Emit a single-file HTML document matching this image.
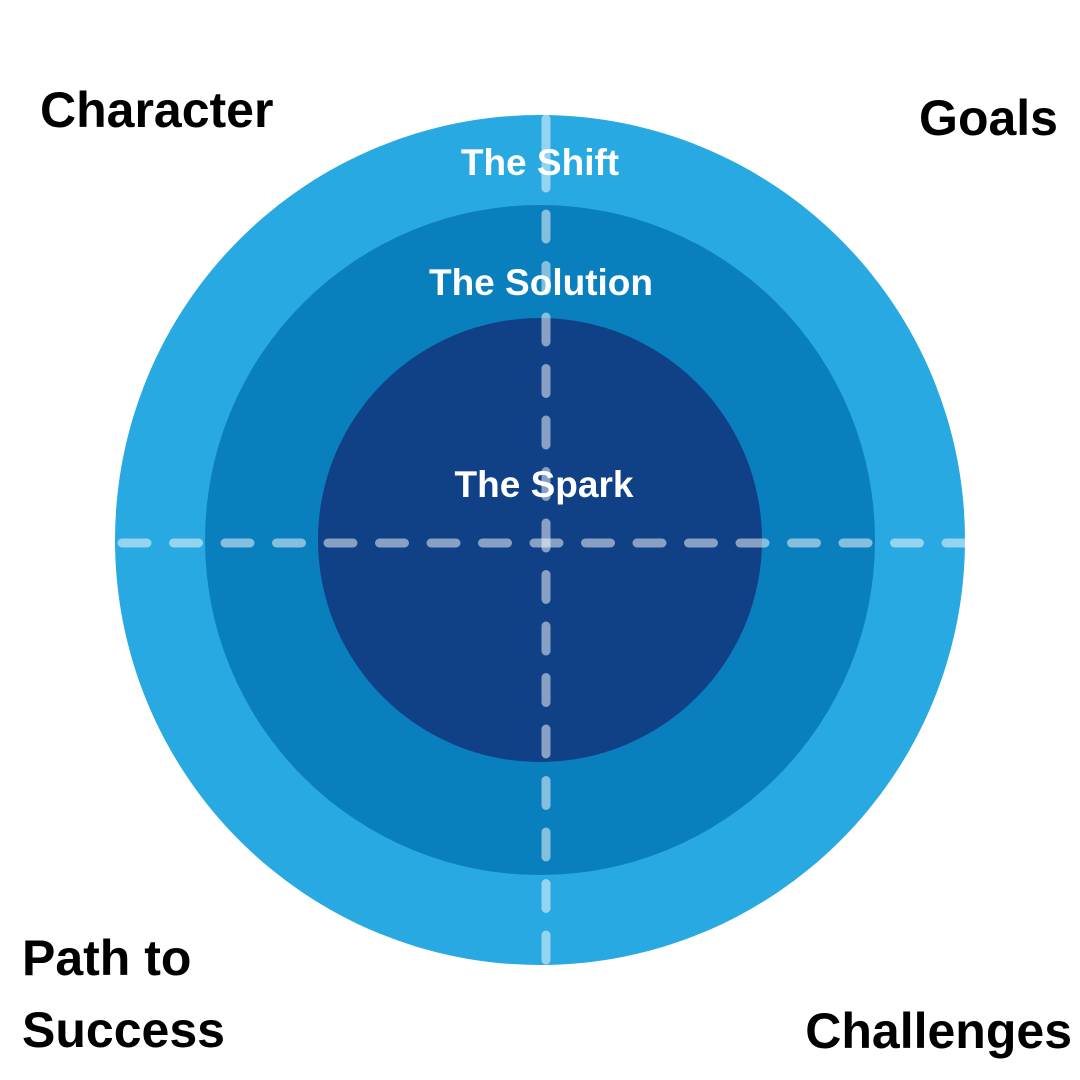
<!DOCTYPE html>
<html><head><meta charset="utf-8"><style>
html,body{margin:0;padding:0;background:#fff;}
svg{display:block;}
</style></head><body>
<svg width="1080" height="1080" viewBox="0 0 1080 1080" xmlns="http://www.w3.org/2000/svg">
<rect width="1080" height="1080" fill="#fff"/>
<circle cx="540" cy="540" r="425" fill="#29A9E1"/>
<circle cx="540" cy="540" r="335" fill="#0A7FBD"/>
<circle cx="540" cy="540" r="222" fill="#104187"/>
<g stroke="#fff" stroke-opacity="0.5" stroke-width="9" stroke-linecap="round" fill="none">
<line x1="122" y1="543" x2="965" y2="543" stroke-dasharray="25 26.5"/>
<line x1="546" y1="119" x2="546" y2="188"/>
<line x1="546" y1="214" x2="546" y2="960" stroke-dasharray="25 26.5"/>
</g>
<g font-family="'Liberation Sans', sans-serif" font-weight="bold">
<g fill="#fff" font-size="37" text-anchor="middle">
<text x="540" y="175">The Shift</text>
<text x="541" y="295">The Solution</text>
<text x="544" y="497">The Spark</text>
</g>
<g fill="#000" font-size="50">
<text x="40" y="127">Character</text>
<text x="1058" y="135" text-anchor="end">Goals</text>
<text x="22" y="975">Path to</text>
<text x="22" y="1047">Success</text>
<text x="1072" y="1048" text-anchor="end">Challenges</text>
</g>
</g>
</svg>
</body></html>
